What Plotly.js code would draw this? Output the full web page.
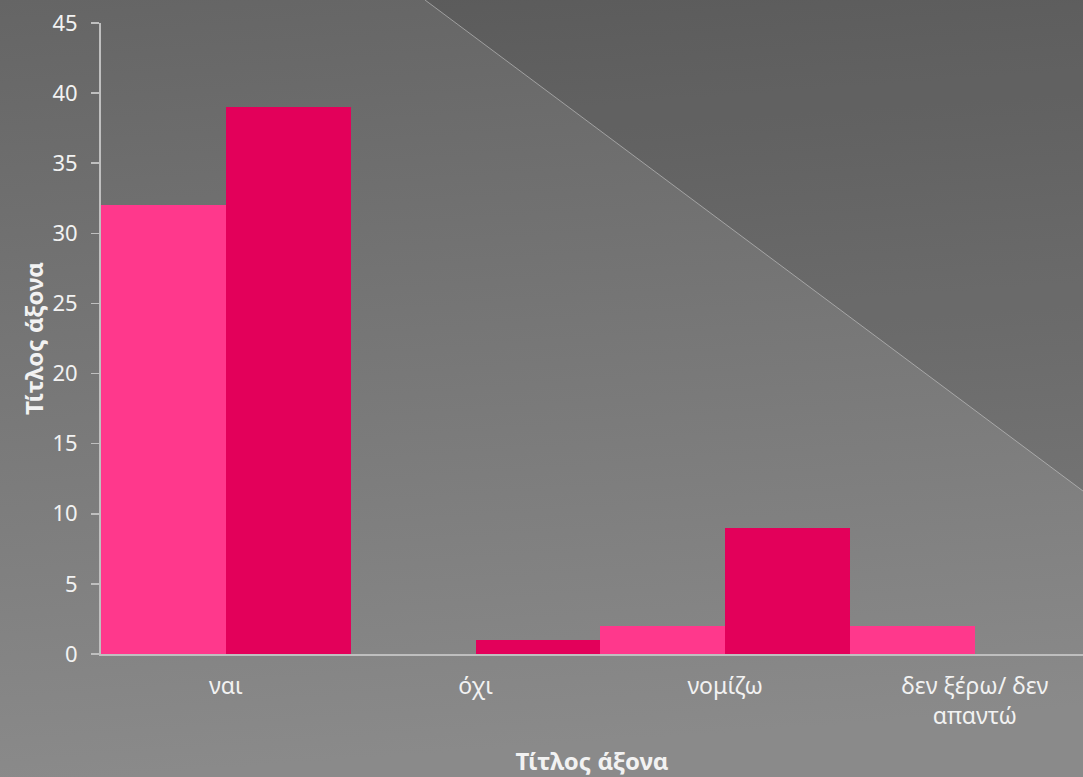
<!DOCTYPE html>
<html>
<head>
<meta charset="utf-8">
<script src="https://cdn.plot.ly/plotly-3.0.1.min.js"></script>
<style>
  html, body { margin:0; padding:0; width:1083px; height:777px; overflow:hidden; }
  #bg { position:absolute; left:0; top:0; width:1083px; height:777px; }
  #chart { position:absolute; left:0; top:0; width:1083px; height:777px; }
</style>
</head>
<body>
<svg id="bg" width="1083" height="777" xmlns="http://www.w3.org/2000/svg">
  <defs>
    <linearGradient id="g" x1="0" y1="0" x2="0.1" y2="1">
      <stop offset="0" stop-color="#656565"/>
      <stop offset="1" stop-color="#8a8a8a"/>
    </linearGradient>
  </defs>
  <rect x="0" y="0" width="1083" height="777" fill="url(#g)"/>
  <polygon points="425,0 1083,0 1083,491" fill="rgba(0,0,0,0.1)"/>
  <line x1="425" y1="0" x2="1083" y2="491" stroke="rgba(210,210,210,0.55)" stroke-width="1"/>
</svg>
<div id="chart"></div>
<script>
const categories = ["ναι", "όχι", "νομίζω", "δεν ξέρω/ δεν<br>απαντώ"];
const series1 = [32, 0, 2, 2];
const series2 = [39, 1, 9, 0];
const yTicks = [0, 5, 10, 15, 20, 25, 30, 35, 40, 45];

const fontFam = "'Noto Sans', 'DejaVu Sans', sans-serif";
const traces = [
  { type: "bar", x: categories, y: series1, marker: { color: "#FF388C" }, name: "Σειρά 1", hoverinfo: "y" },
  { type: "bar", x: categories, y: series2, marker: { color: "#E3005A" }, name: "Σειρά 2", hoverinfo: "y" }
];

const layout = {
  width: 1083, height: 777,
  paper_bgcolor: "rgba(0,0,0,0)",
  plot_bgcolor: "rgba(0,0,0,0)",
  margin: { l: 101, r: 0, t: 23, b: 123 },
  barmode: "group",
  bargap: 0,
  bargroupgap: 0,
  showlegend: false,
  font: { family: fontFam, color: "#F2F2F2", size: 22 },
  xaxis: {
    type: "category",
    range: [-0.5, 3.433],
    showline: true, linecolor: "#BFBFBF", linewidth: 2,
    ticks: "", showgrid: false, zeroline: false,
    tickfont: { size: 23, color: "#F2F2F2", family: fontFam },
    ticklabelstandoff: 10,
    title: { text: "Τίτλος άξονα", font: { size: 24, color: "#F2F2F2", family: fontFam, weight: "bold" }, standoff: 24 }
  },
  yaxis: {
    range: [0, 45],
    tickvals: yTicks,
    showline: true, linecolor: "#BFBFBF", linewidth: 2,
    ticks: "outside", ticklen: 8, tickcolor: "#BFBFBF", tickwidth: 1.5,
    showgrid: false, zeroline: false,
    tickfont: { size: 22, color: "#F2F2F2", family: fontFam },
    ticklabelstandoff: 9,
    title: { text: "Τίτλος άξονα", font: { size: 24, color: "#F2F2F2", family: fontFam, weight: "bold" }, standoff: 2 }
  }
};

Plotly.newPlot("chart", traces, layout, { displayModeBar: false, staticPlot: true });
</script>
</body>
</html>
